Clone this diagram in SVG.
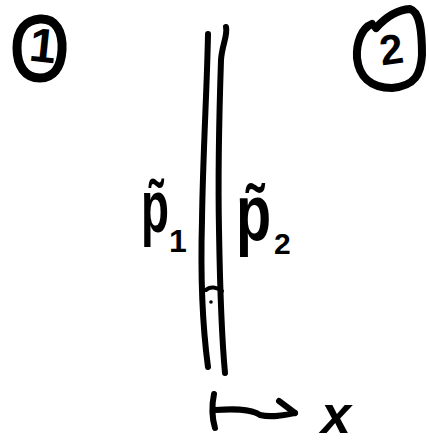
<svg xmlns="http://www.w3.org/2000/svg" width="429" height="447" viewBox="0 0 429 447">
<style>
.ink{fill:none;stroke:#000;stroke-linecap:round;stroke-linejoin:round}
.t{font-family:"Liberation Sans","DejaVu Sans",sans-serif;font-weight:bold;fill:#000}
</style>
<rect width="429" height="447" fill="#fff"/>
<g id="region1">
<path class="ink" stroke-width="9" d="M40,19 C56,18 63,32 62,50 C61,68 53,78 40,78 C25,78 17,66 17,48 C17,30 26,20 40,19 Z"/>
<text class="t" x="43" y="62" font-size="48" text-anchor="middle" transform="rotate(6 43 45)">1</text>
</g>
<g id="region2">
<path class="ink" stroke-width="8" d="M376,28 C385,18 395,10 410,9 C420,12 422,30 422,55 C421,74 415,86 392,88 C370,88 359,76 357,58 C356,42 362,28 372,24"/>
<text class="t" x="391" y="64" font-size="42" text-anchor="middle" transform="rotate(-8 391 48)">2</text>
</g>
<g id="wall">
<path class="ink" stroke-width="6" d="M208,34 C207,90 203,150 202,220 C200,290 203,330 208,367"/>
<path class="ink" stroke-width="6" d="M226,27 C228,35 222,45 221,60 C219,120 218,180 219,230 C220,290 221,330 225,373"/>
<path class="ink" stroke-width="4" d="M206,290 C210,286 217,287 222,291"/>
<circle cx="211" cy="302" r="1.8" fill="#000"/>
</g>
<g id="label-p1">
<text class="t" transform="translate(141,232) scale(0.62,1)" font-size="74">p&#771;</text>
<text class="t" x="169" y="252" font-size="32">1</text>
</g>
<g id="label-p2">
<text class="t" transform="translate(236,240) scale(0.72,1)" font-size="80">p&#771;</text>
<text class="t" x="274" y="254" font-size="30">2</text>
</g>
<g id="axis">
<path class="ink" stroke-width="6" d="M214,394 C212,404 212,418 215,428"/>
<path class="ink" stroke-width="6" d="M215,410 C230,409 250,408 260,415 C272,418 285,415 295,413"/>
<path class="ink" stroke-width="6" d="M279,401 L295,413"/>
<text class="t" x="336" y="433" font-size="54" text-anchor="middle" font-style="italic">x</text>
</g>
</svg>
